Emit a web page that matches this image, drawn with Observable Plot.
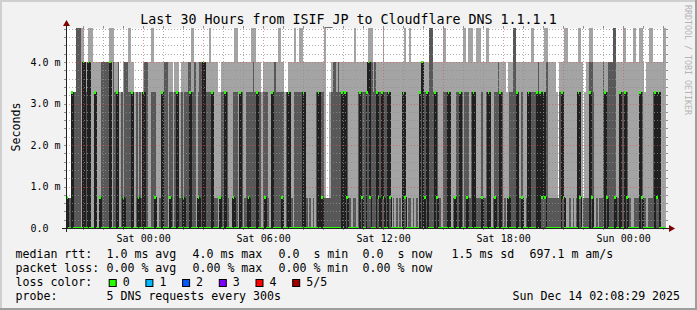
<!DOCTYPE html>
<html><head><meta charset="utf-8">
<script src="https://cdn.jsdelivr.net/npm/d3@7"></script>
<script src="https://cdn.jsdelivr.net/npm/@observablehq/plot@0.6"></script>
<style>
html,body{margin:0;padding:0;background:#f2f2f2;}
svg text{white-space:pre;}
</style></head><body><div id="chart"></div>
<script>
// RTT levels (milliseconds) seen in the picture
const rttLevelsMs = [0, 0.73, 3.27, 4.0, 4.82];
// per 5-minute step: level index of median ping, 4th ping and max ping (pings 1,2 are 0)
const medianLevel = [
1,0,0,2,0,0,0,0,0,0, 3,0,0,3,0,0,0,2,0,0, 1,0,0,0,0,0,3,0,0,0, 2,0,0,0,1,0,0,0,0,2,
0,0,0,1,0,0,2,0,0,0, 0,0,0,1,0,0,0,2,0,0, 0,0,1,0,0,0,2,0,0,0, 1,0,0,0,2,0,0,0,0,1,
0,0,3,0,0,0,0,2,0,0, 0,0,1,0,0,2,0,0,0,0, 1,0,0,0,2,0,0,0,0,1, 0,0,0,0,2,0,0,0,0,1,
0,0,0,2,0,0,0,0,0,1, 0,0,0,2,0,0,0,0,0,0, 0,0,2,0,0,0,0,0,0,0, 0,2,0,1,0,0,0,0,0,0,
0,0,0,0,0,2,0,2,1,0, 0,0,0,0,0,0,2,1,0,0, 2,3,1,0,0,0,2,1,0,2, 1,0,0,2,1,0,0,0,0,0,
0,0,2,1,0,0,0,0,0,0, 0,0,2,3,0,1,2,0,0,0, 0,2,1,0,0,0,0,0,0,2, 0,0,0,1,0,0,2,0,0,0,
1,0,0,0,2,0,0,0,0,1, 0,0,0,2,0,0,0,1,0,0, 2,0,0,0,0,1,0,0,0,0, 2,0,0,1,0,0,0,2,0,0,
0,0,2,0,2,1,2,1,0,0, 0,0,0,0,0,0,0,2,1,0, 0,0,0,0,0,0,0,2,1,0, 0,0,0,0,2,1,0,0,0,0,
0,0,0,2,1,0,0,0,0,1, 0,0,2,0,0,2,1,0,0,0, 0,0,0,0,2,1,0,0,0,0, 0,0,0,2,1,2,0,0,0,0];
const ping4Level = [
1,1,1,2,2,2,4,4,4,0, 3,0,2,3,2,0,0,2,0,0, 1,3,3,3,3,3,3,0,3,2, 2,3,0,2,1,3,3,2,2,2,
2,0,2,1,2,1,2,3,3,0, 0,2,2,2,0,0,1,2,2,3, 3,0,2,2,0,2,2,2,1,2, 1,2,2,3,3,2,2,3,0,2,
3,3,3,2,2,2,2,2,2,1, 1,0,1,2,2,2,2,1,0,0, 2,2,2,0,2,2,0,1,2,2, 2,2,3,2,2,2,2,0,2,2,
2,1,0,2,2,3,2,2,2,2, 2,0,2,2,2,1,0,2,2,2, 2,2,2,0,1,0,1,0,1,0, 2,2,2,2,2,1,1,1,1,2,
3,3,2,3,2,2,2,2,2,0, 1,0,1,1,0,2,2,2,2,2, 2,3,3,3,2,3,2,2,2,2, 2,2,2,2,2,0,1,0,1,0,
1,0,2,2,0,1,1,0,1,0, 1,0,2,3,1,2,2,2,4,4, 2,2,2,1,1,0,2,2,2,2, 2,0,1,1,2,2,2,2,0,2,
2,2,1,2,2,1,1,1,1,2, 0,1,2,2,2,0,1,2,2,3, 2,2,0,1,0,1,2,2,4,4, 2,1,1,2,0,0,1,2,2,2,
2,2,2,3,2,2,2,2,3,1, 1,1,1,1,1,1,2,2,2,0, 0,0,1,0,1,0,1,2,2,0, 1,1,1,1,3,3,2,0,1,0,
1,1,3,2,2,3,3,3,4,4, 1,1,2,2,2,2,2,1,1,0, 0,1,1,1,2,2,1,1,0,1, 1,1,2,2,2,2,2,0,0,0];
const maxLevel = [
1,1,1,2,2,2,4,4,4,4, 4,3,3,4,4,4,3,3,3,3, 3,3,3,3,3,3,4,4,4,3, 3,3,2,2,3,3,3,4,4,3,
3,2,2,2,2,2,3,3,3,3, 3,4,4,3,3,3,3,3,3,3, 3,3,3,3,2,3,3,3,2,3, 3,3,3,3,3,4,4,3,3,3,
3,3,3,3,3,3,4,3,3,3, 3,2,2,3,3,3,3,3,3,3, 3,4,4,3,3,3,3,3,3,3, 3,4,4,4,3,3,3,2,3,3,
3,3,3,3,3,3,3,4,4,3, 3,2,2,3,3,3,3,4,3,3, 4,4,3,3,3,3,3,3,3,3, 3,3,3,3,3,4,1,1,2,3,
3,3,3,3,3,3,3,3,3,3, 3,3,3,4,3,3,3,3,3,3, 3,4,4,4,3,3,3,3,3,3, 4,3,3,3,3,3,3,3,3,3,
3,3,3,4,3,3,4,3,3,3, 3,3,3,3,1,3,3,3,4,4, 3,3,3,3,3,3,4,4,3,3, 3,3,3,3,3,3,3,3,4,4,
3,4,4,4,3,3,4,4,4,3, 3,3,4,4,3,3,3,3,3,3, 3,3,3,3,2,3,3,3,4,4, 3,3,3,3,3,3,3,3,3,4,
4,3,3,3,3,3,3,4,4,3, 3,3,3,3,2,1,3,3,3,4, 4,3,3,3,3,3,3,4,4,3, 1,2,3,3,4,4,3,3,3,3,
3,3,3,3,3,3,3,3,4,4, 3,3,3,3,4,4,3,3,3,3, 4,4,3,3,4,4,3,2,3,3, 4,4,3,3,3,3,3,3,4,4];

const yTickValues = [0, 1, 2, 3, 4];
const yTickLabels = ["0.0", "1.0 m", "2.0 m", "3.0 m", "4.0 m"];
const yMinorGrid = [0.2,0.4,0.6,0.8,1.2,1.4,1.6,1.8,2.2,2.4,2.6,2.8,3.2,3.4,3.6,3.8,4.2,4.4,4.6,4.8];
const xLabelTimes = [Date.UTC(2025,11,13,0), Date.UTC(2025,11,13,6), Date.UTC(2025,11,13,12), Date.UTC(2025,11,13,18), Date.UTC(2025,11,14,0)];
const endTime = Date.UTC(2025,11,14,2,8,29);
const stepMs = 5*60*1000;

const legendRtt = [["median rtt:",16],["1.0 ms avg",107],["4.0 ms max",193],["0.0  s min",279],["0.0  s now",363],["1.5 ms sd",452],["697.1 m am/s",530]];
const legendLoss = [["packet loss:",16],["0.00 % avg",107],["0.00 % max",193],["0.00 % min",279],["0.00 % now",363]];
const lossColors = ["#26ff00","#00b8ff","#0059ff","#7e00ff","#ff0000","#a00000"];
const lossLabels = ["0","1","2","3","4","5/5"];

const N = medianLevel.length;
const startTime = endTime - N*stepMs;
const rows = medianLevel.map((m,i)=>({
  t0: new Date(startTime + i*stepMs), t1: new Date(startTime + (i+1)*stepMs),
  med: rttLevelsMs[m], p4: rttLevelsMs[ping4Level[i]], max: rttLevelsMs[maxLevel[i]]
}));
const medPts = rows.map(r=>({t:r.t0, v:r.med})).concat([{t:new Date(endTime), v:rows[N-1].med}]);

const W=697, H=310, mL=66, mR=31, mT=28, mB=82;
const yTop = rttLevelsMs[4];
const msPerPx = (endTime-startTime)/(W-mL-mR);
const valPerPx = yTop/(H-mT-mB);
const tAt = px => new Date(startTime + px*msPerPx);
const tEnd = px => new Date(endTime + px*msPerPx);

const hour = 3600e3;
const majorX = [], minorX = [];
for (let t = Date.UTC(2025,11,12,21); t < endTime; t += hour) {
  const h = new Date(t).getUTCHours();
  (h % 3 === 0 ? majorX : minorX).push(new Date(t));
}
const allX = majorX.concat(minorX);
const allY = yMinorGrid.concat([1,2,3,4]);
const sw = 0.035;
const GRID = "rgba(143,143,143,0.75)", MGRID = "rgba(222,79,79,0.6)";

const plot = Plot.plot({
  width: W, height: H, marginLeft: mL, marginRight: mR, marginTop: mT, marginBottom: mB,
  x: {type: "utc", domain: [new Date(startTime), new Date(endTime)], axis: null},
  y: {domain: [0, yTop], axis: null},
  style: {background: "#f2f2f2", fontFamily: "DejaVu Sans Mono", fontSize: "10px", color: "#000"},
  marks: [
    Plot.frame({fill: "white", stroke: "none"}),
    Plot.rect(rows, {x1: "t0", x2: "t1", y1: () => 0, y2: "max", fill: "#a4a4a4", shapeRendering: "crispEdges"}),
    Plot.rect(rows, {x1: "t0", x2: "t1", y1: () => 0, y2: "p4", fill: "#585858", shapeRendering: "crispEdges"}),
    Plot.line(medPts, {x: "t", y: "v", curve: "step-after", stroke: "#202020", strokeWidth: 1.6, shapeRendering: "crispEdges"}),
    Plot.rect(rows, {x1: "t0", x2: "t1", y1: d => d.med - sw, y2: d => d.med + sw, fill: lossColors[0], shapeRendering: "crispEdges"}),
    Plot.ruleY(yMinorGrid, {stroke: GRID, strokeDasharray: "1,2", shapeRendering: "crispEdges"}),
    Plot.ruleX(minorX, {stroke: GRID, strokeDasharray: "1,2", shapeRendering: "crispEdges"}),
    Plot.ruleY([1,2,3,4], {stroke: MGRID, strokeDasharray: "1,2", shapeRendering: "crispEdges"}),
    Plot.ruleX(majorX, {stroke: MGRID, strokeDasharray: "1,2", shapeRendering: "crispEdges"}),
    // small ticks on the frame edges
    Plot.ruleY(allY, {x1: tAt(-2), x2: tAt(0), stroke: "#8f8f8f", shapeRendering: "crispEdges"}),
    Plot.ruleY(allY, {x1: tEnd(0), x2: tEnd(2), stroke: "#8f8f8f", shapeRendering: "crispEdges"}),
    Plot.ruleX(allX, {y1: 0, y2: -2*valPerPx, stroke: "#8f8f8f", shapeRendering: "crispEdges"}),
    Plot.ruleX(allX, {y1: yTop, y2: yTop + 2*valPerPx, stroke: "#8f8f8f", shapeRendering: "crispEdges"}),
    // axes
    Plot.ruleY([0], {x1: tAt(-4), x2: tEnd(4), stroke: "#212121", shapeRendering: "crispEdges"}),
    Plot.ruleX([new Date(startTime)], {y1: -4*valPerPx, y2: yTop + 3*valPerPx, stroke: "#212121", shapeRendering: "crispEdges"}),
    Plot.dot([0], {x: () => new Date(startTime), y: () => yTop + 4.5*valPerPx, symbol: "triangle", r: 2.6, fill: "#800000", stroke: "none"}),
    Plot.dot([0], {x: () => tEnd(4.5), y: () => 0, symbol: "triangle", r: 2.6, rotate: 90, fill: "#800000", stroke: "none"}),
    // tick labels
    Plot.text(xLabelTimes, {x: d => new Date(d), text: d => d3.utcFormat("%a %H:%M")(new Date(d)), frameAnchor: "bottom", dy: 10, lineAnchor: "middle", fill: "#000"}),
    Plot.text(yTickValues, {y: d => d, text: (d,i) => yTickLabels[i], frameAnchor: "left", textAnchor: "start", dx: -36, lineAnchor: "middle", fill: "#000"})
  ]
});
document.getElementById("chart").appendChild(plot);

const svg = d3.select(plot);
// 3D border
svg.append("rect").attr("x",0).attr("y",0).attr("width",W).attr("height",2).attr("fill","#cfcfcf");
svg.append("rect").attr("x",0).attr("y",0).attr("width",2).attr("height",H).attr("fill","#cfcfcf");
svg.append("rect").attr("x",0).attr("y",H-2).attr("width",W).attr("height",2).attr("fill","#9e9e9e");
svg.append("rect").attr("x",W-2).attr("y",0).attr("width",2).attr("height",H).attr("fill","#9e9e9e");

const g = svg.append("g").attr("font-family","DejaVu Sans Mono").attr("fill","#000").attr("text-anchor","start");
g.append("text").attr("x",348.5).attr("y",24).attr("text-anchor","middle").attr("font-size",13.3)
  .text("Last 30 Hours from ISIF_JP to Cloudflare DNS 1.1.1.1");
g.append("text").attr("transform","translate(19.5,127) rotate(-90)").attr("text-anchor","middle").attr("font-size",11.6).text("Seconds");
g.append("text").attr("transform","translate(685,5) rotate(90)").attr("font-size",8.3).attr("fill","#b4b4b4").text("RRDTOOL / TOBI OETIKER");

const lf = 11.6;
legendRtt.forEach(([s,x]) => g.append("text").attr("x",x-0.5).attr("y",258).attr("font-size",lf).text(s));
legendLoss.forEach(([s,x]) => g.append("text").attr("x",x-0.5).attr("y",272).attr("font-size",lf).text(s));
g.append("text").attr("x",15.5).attr("y",286).attr("font-size",lf).text("loss color:");
lossColors.forEach((c,i) => {
  const bx = 108.7 + i*36.7;
  g.append("rect").attr("x",bx+0.5).attr("y",279.5).attr("width",7).attr("height",7).attr("fill",c).attr("stroke","#000").attr("stroke-width",1);
  g.append("text").attr("x",bx+14).attr("y",286).attr("font-size",lf).text(lossLabels[i]);
});
g.append("text").attr("x",15.5).attr("y",300).attr("font-size",lf).text("probe:");
g.append("text").attr("x",106.5).attr("y",300).attr("font-size",lf).text("5 DNS requests every 300s");
g.append("text").attr("x",512.5).attr("y",300).attr("font-size",lf).text("Sun Dec 14 02:08:29 2025");
</script></body></html>
